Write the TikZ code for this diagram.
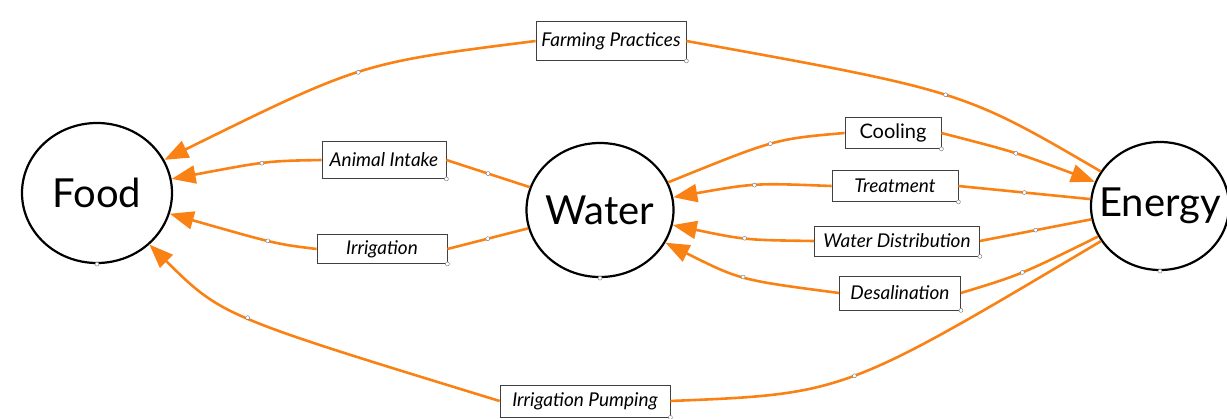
\documentclass[tikz,border=0pt]{standalone}
\usepackage{fontspec}
\setmainfont{Lato}
\usetikzlibrary{arrows.meta, shapes.geometric}
\definecolor{flowc}{RGB}{250,130,20}

\begin{document}
\begin{tikzpicture}[x=1pt,y=-1pt,
  hub/.style={ellipse,draw,line width=2.2pt,fill=white,inner sep=0pt,font=\fontsize{40}{44}\selectfont},
  lbl/.style={draw=black!75,line width=0.8pt,fill=white,inner sep=0pt,minimum height=31,font=\fontsize{19}{21}\selectfont\itshape},
  flow/.style={draw=flowc,line width=2.6pt},
  feed/.style={flow,-{Triangle[length=24pt,width=18pt]}},
  handle/.style={circle,draw=black!55,fill=white,line width=0.4pt,inner sep=0pt,minimum size=4pt}]
  \useasboundingbox (0,0) rectangle (1227,418);
  % the three hubs
  \node[hub,minimum width=150,minimum height=140] (food) at (97,193) {\makebox[0pt]{Food}};
  \node[hub,minimum width=147,minimum height=134] (water) at (600,210) {\makebox[0pt]{Water}};
  \node[hub,minimum width=138,minimum height=128] (energy) at (1160,206) {\makebox[0pt]{Energy}};
  % label boxes
  \node[lbl,minimum width=150,minimum height=39] (farm) at (611,41) {Farming Practices};
  \node[lbl,minimum width=124,minimum height=37] (animal) at (384,160) {Animal Intake};
  \node[lbl,minimum width=130,minimum height=29] (irr) at (382,249) {Irrigation};
  \node[lbl,minimum width=96,font=\fontsize{20}{22}\selectfont] (cool) at (893,133) {Cooling};
  \node[lbl,minimum width=126] (treat) at (895,186) {Treatment};
  \node[lbl,minimum width=165,minimum height=30] (distr) at (897,241) {Water Distribution};
  \node[lbl,minimum width=121,minimum height=34] (desal) at (900,293) {Desalination};
  \node[lbl,minimum width=170,minimum height=32] (pump) at (585,401) {Irrigation Pumping};
  % flows
  \draw[flow] (energy) .. controls (963,91) .. (farm.east) node[handle,pos=0.5]{};
  \draw[feed] (farm.west) .. controls (361,63) .. (food) node[handle,pos=0.5]{};
  \draw[flow] (water) -- (animal.east) node[handle,pos=0.5]{};
  \draw[feed] (animal.west) .. controls (267,161) .. (food) node[handle,pos=0.5]{};
  \draw[flow] (water) -- (irr.east) node[handle,pos=0.5]{};
  \draw[feed] (irr.west) .. controls (276,244) .. (food) node[handle,pos=0.5]{};
  \draw[flow] (water) .. controls (775,139) .. (cool.west) node[handle,pos=0.5]{};
  \draw[feed] (cool.east) .. controls (1015,152) .. (energy) node[handle,pos=0.5]{};
  \draw[flow] (energy) -- (treat.east) node[handle,pos=0.5]{};
  \draw[feed] (treat.west) .. controls (755,183) .. (water) node[handle,pos=0.5]{};
  \draw[flow] (energy) -- (distr.east) node[handle,pos=0.5]{};
  \draw[feed] (distr.west) .. controls (745,240) .. (water) node[handle,pos=0.5]{};
  \draw[flow] (energy) .. controls (1020,275) .. (desal.east) node[handle,pos=0.5]{};
  \draw[feed] (desal.west) .. controls (740,280) .. (water) node[handle,pos=0.5]{};
  \draw[flow] (energy) .. controls (844,394) .. (pump.east) node[handle,pos=0.5]{};
  \draw[feed] (pump.west) .. controls (222,316) .. (food) node[handle,pos=0.5]{};
  % editor handles
  \foreach \n in {food,water,energy} \node[handle] at (\n.south) {};
  \foreach \n in {farm,animal,irr,cool,treat,distr,desal,pump} \node[handle] at (\n.south east) {};
\end{tikzpicture}
\end{document}
